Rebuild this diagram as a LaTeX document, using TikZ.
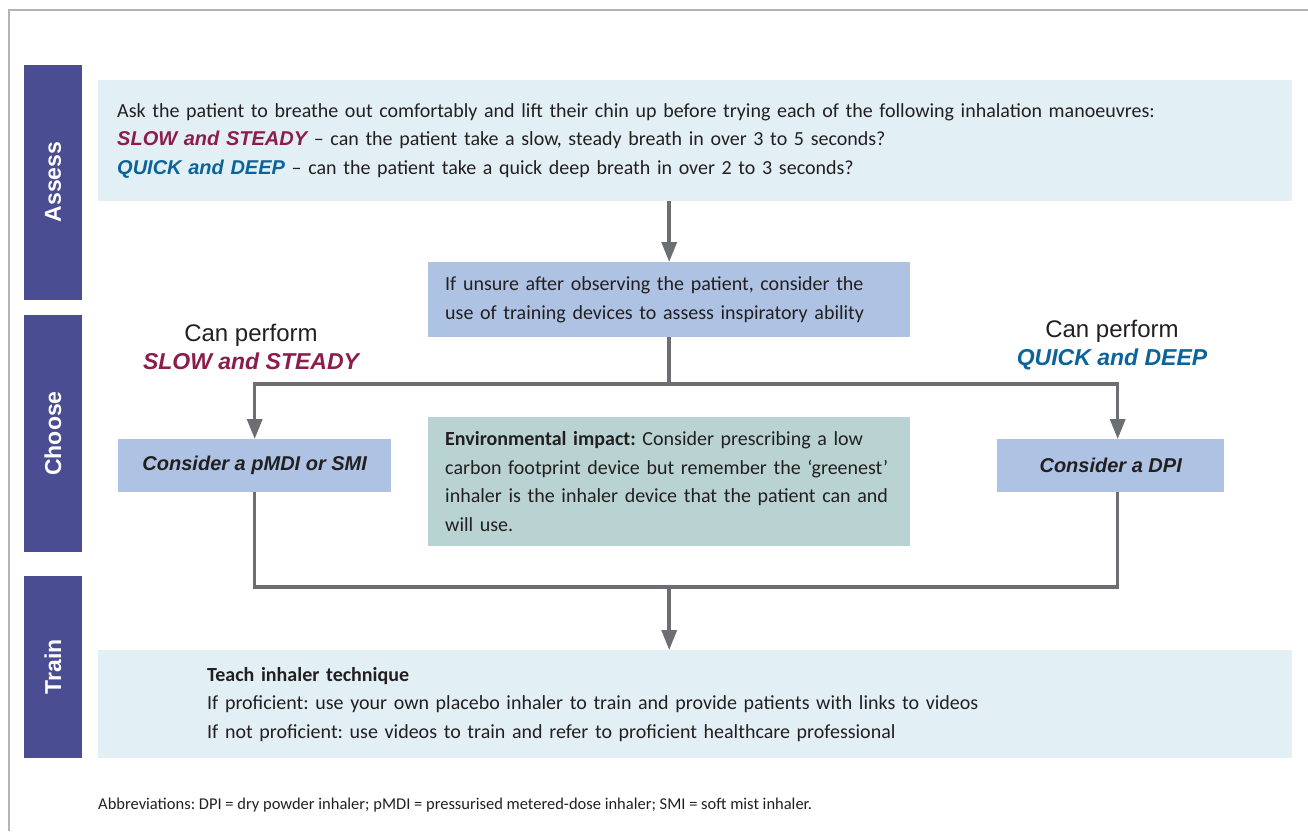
\documentclass[tikz,border=0pt]{standalone}
\usepackage{fontspec}
\setmainfont{Carlito}
\newfontfamily\headfont{Liberation Sans}
\usetikzlibrary{arrows.meta,positioning}
\definecolor{barpurple}{HTML}{4B4D92}
\definecolor{assessblue}{HTML}{E2F0F6}
\definecolor{unsureblue}{HTML}{AEC3E3}
\definecolor{envgreen}{HTML}{B8D3D2}
\definecolor{slowred}{HTML}{8C1D4B}
\definecolor{quickblue}{HTML}{0B6399}
\definecolor{arrowgray}{HTML}{6D6E71}
\definecolor{textdark}{HTML}{231F20}
\definecolor{framegray}{HTML}{B4B4B4}
\newcommand{\slowtxt}[1]{{\headfont\bfseries\itshape\color{slowred}#1}}
\newcommand{\quicktxt}[1]{{\headfont\bfseries\itshape\color{quickblue}#1}}
\frenchspacing

\begin{document}
\begin{tikzpicture}[x=1pt,y=-1pt,>={Triangle[width=15pt,length=20pt]},
  every node/.style={text=textdark},
  sidebar/.style={fill=barpurple,rotate=90,minimum height=58pt,inner sep=0pt,text=white,
    font=\headfont\bfseries\fontsize{23}{23}\selectfont},
  textbox/.style={anchor=north west,inner xsep=19pt,inner ysep=0pt,align=left,
    font=\fontsize{20}{28.5}\selectfont},
  choice/.style={fill=unsureblue,anchor=north west,inner sep=0pt,minimum height=53pt,
    font=\headfont\bfseries\itshape\fontsize{20}{20}\selectfont},
  heading/.style={align=center,font=\headfont\fontsize{24}{28}\selectfont},
  link/.style={draw=arrowgray,line width=3.5pt},
  flow/.style={link,->}]
  \useasboundingbox (0,0) rectangle (1308,831);
  \draw[framegray,line width=2pt] (9,831) -- (9,10) -- (1308,10);

  % phase bars
  \node[sidebar,minimum width=235pt] (assessbar) at (53,182) {Assess};
  \node[sidebar,minimum width=237pt] (choosebar) at (53,433.5) {Choose};
  \node[sidebar,minimum width=182pt] (trainbar) at (53,667) {Train};

  % boxes
  \node[textbox,fill=assessblue,text width=1156pt,minimum height=121pt] (assess) at (98,80)
    {Ask the patient to breathe out comfortably and lift their chin up before trying each of the following inhalation manoeuvres:\\
     \slowtxt{SLOW and STEADY} -- can the patient take a slow, steady breath in over 3 to 5 seconds?\\
     \quicktxt{QUICK and DEEP} -- can the patient take a quick deep breath in over 2 to 3 seconds?};
  \node[textbox,fill=unsureblue,inner xsep=17pt,text width=448pt,minimum height=75pt] (unsure) at (428,262)
    {If unsure after observing the patient, consider the\\use of training devices to assess inspiratory ability};
  \node[textbox,fill=envgreen,inner xsep=17pt,text width=448pt,minimum height=129pt] (env) at (428,417)
    {\textbf{Environmental impact:} Consider prescribing a low\\carbon footprint device but remember the ‘greenest’\\inhaler is the inhaler device that the patient can and\\will use.};
  \node[choice,minimum width=273pt] (pmdi) at (118,439) {Consider a pMDI or SMI};
  \node[choice,minimum width=227pt] (dpi) at (997,439) {Consider a DPI};
  \node[textbox,fill=assessblue,inner xsep=109pt,text width=976pt,minimum height=108pt] (train) at (98,650)
    {\textbf{Teach inhaler technique}\\
     If proficient: use your own placebo inhaler to train and provide patients with links to videos\\
     If not proficient: use videos to train and refer to proficient healthcare professional};

  \node[heading] (slowhead) at (251,347) {Can perform\\{\fontsize{23}{28}\selectfont\slowtxt{SLOW and STEADY}}};
  \node[heading] (quickhead) at (1112,345) {Can perform\\{\fontsize{23}{28}\selectfont\quicktxt{QUICK and DEEP}}};

  \node[anchor=west,inner sep=0pt,font=\fontsize{16.5}{18}\selectfont] (abbr) at (98,805)
    {Abbreviations: DPI = dry powder inhaler; pMDI = pressurised metered-dose inhaler; SMI = soft mist inhaler.};

  % connectors
  \coordinate (split) at (unsure.south |- 0,384);
  \coordinate (merge) at (unsure.south |- 0,587);
  \path[flow] (unsure.north |- assess.south) -- (unsure.north);
  \path[link] (unsure.south) -- (split);
  \path[flow] (split) -| (pmdi.north);
  \path[flow] (split) -| ([xshift=7pt]dpi.north);
  \path[link] (pmdi.south) |- (merge) -| ([xshift=7pt]dpi.south);
  \path[flow] (merge) -- (merge |- train.north);
\end{tikzpicture}
\end{document}
